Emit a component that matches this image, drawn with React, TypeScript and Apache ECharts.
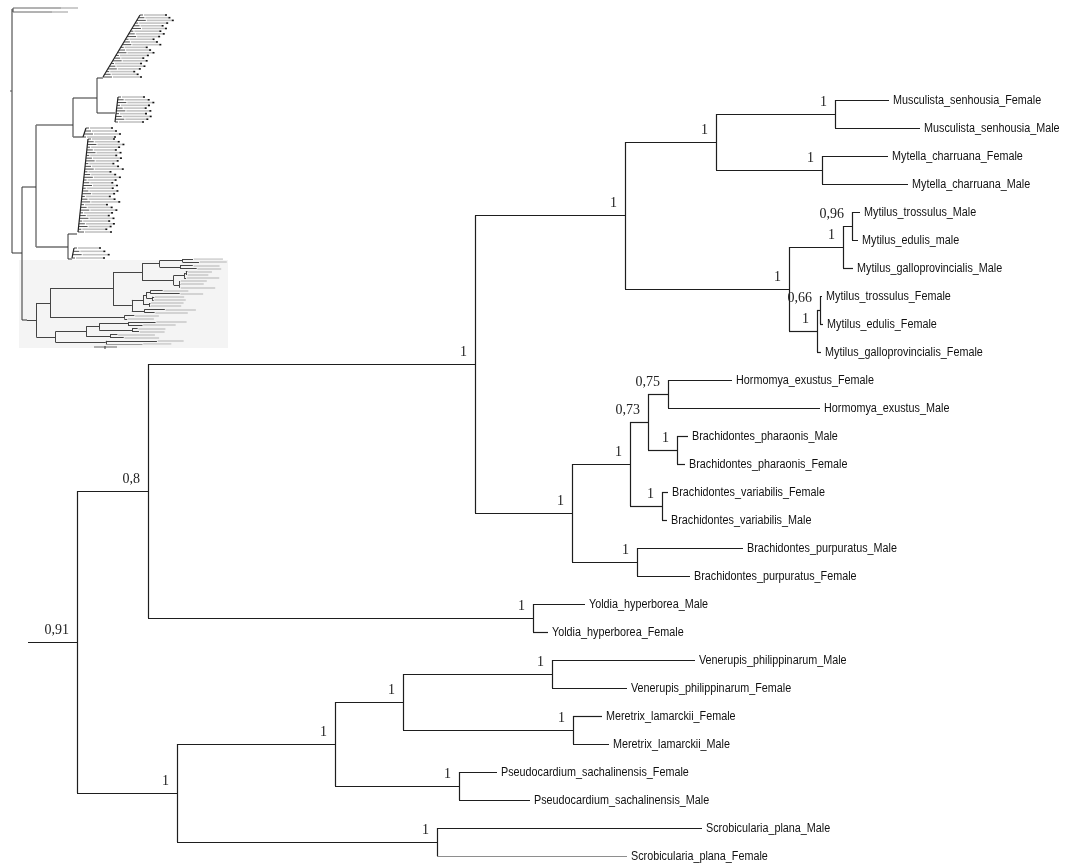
import React, { useEffect, useRef } from "react";
import * as echarts from "echarts";

// ---- Tree data (tip names, tip depth, internal nodes) ----
const leafNames = [
  "Musculista_senhousia_Female",
  "Musculista_senhousia_Male",
  "Mytella_charruana_Female",
  "Mytella_charruana_Male",
  "Mytilus_trossulus_Male",
  "Mytilus_edulis_male",
  "Mytilus_galloprovincialis_Male",
  "Mytilus_trossulus_Female",
  "Mytilus_edulis_Female",
  "Mytilus_galloprovincialis_Female",
  "Hormomya_exustus_Female",
  "Hormomya_exustus_Male",
  "Brachidontes_pharaonis_Male",
  "Brachidontes_pharaonis_Female",
  "Brachidontes_variabilis_Female",
  "Brachidontes_variabilis_Male",
  "Brachidontes_purpuratus_Male",
  "Brachidontes_purpuratus_Female",
  "Yoldia_hyperborea_Male",
  "Yoldia_hyperborea_Female",
  "Venerupis_philippinarum_Male",
  "Venerupis_philippinarum_Female",
  "Meretrix_lamarckii_Female",
  "Meretrix_lamarckii_Male",
  "Pseudocardium_sachalinensis_Female",
  "Pseudocardium_sachalinensis_Male",
  "Scrobicularia_plana_Male",
  "Scrobicularia_plana_Female",
];

const leafDepth = [
  889, 920, 888, 908, 860, 858, 853, 822, 823, 821, 732, 820, 688, 685, 668,
  667, 743, 690, 585, 548, 695, 627, 602, 609, 497, 530, 702, 627,
];

const nodeIds = [
  "root", "n148", "n475", "n625", "n716", "n835", "n822", "n789", "n843",
  "n852", "n818", "n820", "n572", "n630", "n648", "n668", "n677", "n662",
  "n637", "n533", "n177", "n335", "n403", "n552", "n573", "n459", "n437",
];

const nodeDepth = [
  77, 148, 475, 625, 716, 835, 822, 789, 843, 852, 817, 820, 572, 630, 648,
  668, 677, 662, 637, 533, 177, 335, 403, 552, 573, 459, 437,
];

const nodeSupport = [
  "0,91", "0,8", "1", "1", "1", "1", "1", "1", "1", "0,96", "1", "0,66", "1",
  "1", "0,73", "0,75", "1", "1", "1", "1", "1", "1", "1", "1", "1", "1", "1",
];

const nodeChildren = [
  ["n148", "n177"],
  ["n475", "n533"],
  ["n625", "n572"],
  ["n716", "n789"],
  ["n835", "n822"],
  ["L0", "L1"],
  ["L2", "L3"],
  ["n843", "n818"],
  ["n852", "L6"],
  ["L4", "L5"],
  ["n820", "L9"],
  ["L7", "L8"],
  ["n630", "n637"],
  ["n648", "n662"],
  ["n668", "n677"],
  ["L10", "L11"],
  ["L12", "L13"],
  ["L14", "L15"],
  ["L16", "L17"],
  ["L18", "L19"],
  ["n335", "n437"],
  ["n403", "n459"],
  ["n552", "n573"],
  ["L20", "L21"],
  ["L22", "L23"],
  ["L24", "L25"],
  ["L26", "L27"],
];

const rootStemDepth = 28;

type Pt = [number, number];

function buildTree() {
  const idx: Record<string, number> = {};
  nodeIds.forEach((id, i) => (idx[id] = i));
  const isLeaf = (r: string) => r.startsWith("L");
  const xOf = (r: string) =>
    isLeaf(r) ? leafDepth[+r.slice(1)] : nodeDepth[idx[r]];
  const memo: Record<string, number> = {};
  const yOf = (r: string): number => {
    if (isLeaf(r)) return +r.slice(1);
    if (memo[r] !== undefined) return memo[r];
    const ch = nodeChildren[idx[r]];
    const y = (yOf(ch[0]) + yOf(ch[ch.length - 1])) / 2;
    memo[r] = y;
    return y;
  };
  const segs: { coords: Pt[] }[] = [];
  nodeIds.forEach((id, i) => {
    const ch = nodeChildren[i];
    const x = nodeDepth[i];
    segs.push({ coords: [[x, yOf(ch[0])], [x, yOf(ch[ch.length - 1])]] });
    ch.forEach((c) => segs.push({ coords: [[x, yOf(c)], [xOf(c), yOf(c)]] }));
  });
  const ry = yOf("root");
  segs.push({ coords: [[rootStemDepth, ry], [nodeDepth[0], ry]] });
  const supports = nodeIds.map((id, i) => [nodeDepth[i], yOf(id), i]);
  const tips = leafNames.map((n, i) => [leafDepth[i], i, i]);
  const tipBars = leafNames.map((n, i) => ({
    coords: [
      [leafDepth[i] + 4, i],
      [leafDepth[i] + 4 + n.length * 5.6, i],
    ] as Pt[],
  }));
  return { segs, supports, tips, tipBars };
}

// decorative overview (minimap) of the larger tree, top-left corner
function overviewGraphics() {
  const els: any[] = [];
  const ln = (x1: number, y1: number, x2: number, y2: number, c = "#333", w = 1) =>
    els.push({
      type: "line",
      silent: true,
      z: 1,
      shape: { x1, y1, x2, y2 },
      style: { stroke: c, lineWidth: w },
    });
  els.push({
    type: "rect",
    silent: true,
    z: 0,
    shape: { x: 19, y: 260, width: 209, height: 88 },
    style: { fill: "#f4f4f4" },
  });
  // backbone
  ln(12, 9, 12, 253);
  ln(10, 91, 12, 91, "#555");
  ln(13, 8, 13, 12);
  ln(13, 8, 61, 8, "#666");
  ln(61, 8, 78, 8, "#ccc", 2);
  ln(13, 12, 52, 12, "#666");
  ln(52, 12, 68, 12, "#ccc", 2);
  ln(12, 253, 22, 253);
  ln(22, 187, 22, 320);
  ln(22, 187, 36, 187);
  ln(22, 320, 27, 320);
  ln(36, 125, 36, 247);
  ln(36, 125, 73, 125, "#777", 1.6);
  ln(73, 98, 73, 137);
  ln(73, 98, 97, 98);
  ln(97, 78, 97, 113);
  ln(97, 78, 103, 78);
  ln(97, 113, 115, 113);
  ln(73, 137, 83, 137, "#777", 1.6);
  ln(36, 247, 68, 247, "#777", 1.6);
  ln(68, 234, 68, 259);
  ln(68, 234, 77, 234);
  ln(68, 259, 72, 259);
  ln(94, 347, 117, 347, "#999", 1.5);
  ln(105, 346, 105, 349, "#333");
  const combs = [
    { x0: 140, y0: 15, x1: 103, y1: 77, n: 24 },
    { x0: 118, y0: 97, x1: 115, y1: 122, n: 10 },
    { x0: 86, y0: 128, x1: 83, y1: 137, n: 4 },
    { x0: 88, y0: 139, x1: 78, y1: 232, n: 35 },
    { x0: 74, y0: 248, x1: 72, y1: 258, n: 4 },
  ];
  combs.forEach((c) => {
    ln(c.x0, c.y0, c.x1, c.y1, "#222", 1.2);
    for (let i = 0; i < c.n; i++) {
      const t = c.n > 1 ? i / (c.n - 1) : 0;
      const sx = c.x0 + (c.x1 - c.x0) * t;
      const sy = c.y0 + (c.y1 - c.y0) * t;
      const l1 = 3 + (i % 3) * 3;
      ln(sx, sy, sx + l1, sy, "#222", 0.8);
      ln(sx + l1 + 1, sy, sx + l1 + 22 + (i % 4) * 2, sy, "#c4c4c4", 1.6);
      ln(sx + l1 + 22 + (i % 4) * 2, sy, sx + l1 + 24 + (i % 4) * 2, sy, "#111", 1.6);
    }
  });
  return els;
}

export default function App() {
  const ref = useRef<HTMLDivElement>(null);
  useEffect(() => {
    if (!ref.current) return;
    const chart = echarts.init(ref.current, undefined, { renderer: "svg" });
    const { segs, supports, tips, tipBars } = buildTree();
    const hiddenX = { type: "value", min: 0, max: 1073, show: false };
    const hiddenY = { type: "value", min: 0, max: 27, inverse: true, show: false };
    chart.setOption({
      animation: false,
      backgroundColor: "#ffffff",
      grid: [
        { left: 0, top: 100, width: 1073, height: 756 },
        { left: 21.5, top: 259, width: 207, height: 85 },
      ],
      xAxis: [
        { ...hiddenX, gridIndex: 0 },
        { ...hiddenX, gridIndex: 1 },
      ],
      yAxis: [
        { ...hiddenY, gridIndex: 0 },
        { ...hiddenY, gridIndex: 1 },
      ],
      graphic: overviewGraphics(),
      series: [
        {
          type: "lines",
          coordinateSystem: "cartesian2d",
          xAxisIndex: 0,
          yAxisIndex: 0,
          polyline: false,
          silent: true,
          lineStyle: { color: "#1e1e1e", width: 1.2, opacity: 1 },
          data: segs,
        },
        {
          // tip labels (narrow sans)
          type: "custom",
          xAxisIndex: 0,
          yAxisIndex: 0,
          silent: true,
          clip: false,
          data: tips,
          renderItem: (params: any, api: any) => {
            const p = api.coord([api.value(0), api.value(1)]);
            return {
              type: "text",
              x: p[0] + 4,
              y: p[1],
              scaleX: 0.8,
              silent: true,
              style: {
                text: leafNames[api.value(2)],
                fontFamily: "'Liberation Sans', Arial, sans-serif",
                fontSize: 13.5,
                fill: "#111111",
                align: "left",
                verticalAlign: "middle",
              },
            };
          },
        },
        {
          // support values (serif)
          type: "custom",
          xAxisIndex: 0,
          yAxisIndex: 0,
          silent: true,
          clip: false,
          data: supports,
          renderItem: (params: any, api: any) => {
            const p = api.coord([api.value(0), api.value(1)]);
            return {
              type: "text",
              x: p[0] - 8,
              y: p[1] - 6,
              silent: true,
              style: {
                text: nodeSupport[api.value(2)],
                fontFamily: "'Liberation Serif', 'DejaVu Serif', serif",
                fontSize: 14,
                fill: "#222222",
                align: "right",
                verticalAlign: "bottom",
              },
            };
          },
        },
        {
          type: "lines",
          coordinateSystem: "cartesian2d",
          xAxisIndex: 1,
          yAxisIndex: 1,
          polyline: false,
          silent: true,
          lineStyle: { color: "#c8c8c8", width: 1.6, opacity: 1 },
          data: tipBars,
        },
        {
          type: "lines",
          coordinateSystem: "cartesian2d",
          xAxisIndex: 1,
          yAxisIndex: 1,
          polyline: false,
          silent: true,
          lineStyle: { color: "#444", width: 1, opacity: 1 },
          data: segs,
        },
      ],
    });
    return () => chart.dispose();
  }, []);
  return (
    <div
      ref={ref}
      style={{
        position: "fixed",
        left: 0,
        top: 0,
        width: 1073,
        height: 865,
        willChange: "transform",
      }}
    />
  );
}
